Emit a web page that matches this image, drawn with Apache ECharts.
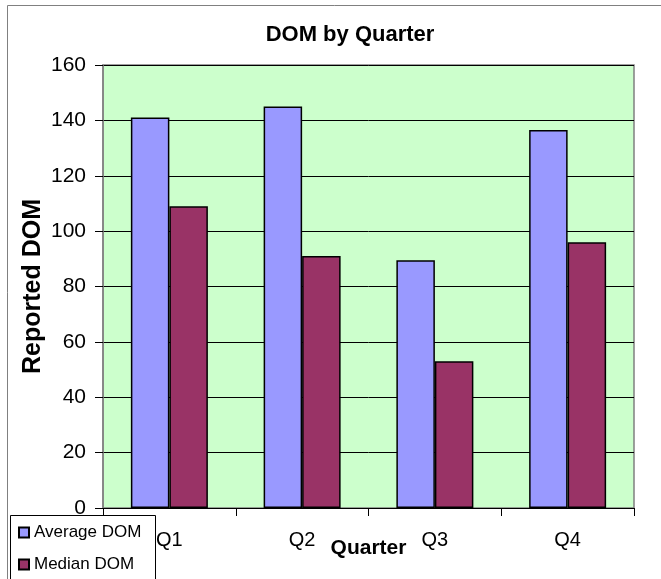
<!DOCTYPE html>
<html>
<head>
<meta charset="utf-8">
<script src="https://cdn.jsdelivr.net/npm/echarts@6/dist/echarts.min.js"></script>
<style>
html,body{margin:0;padding:0;background:#fff;}
#c{width:661px;height:579px;}
</style>
</head>
<body>
<div id="c"></div>
<script>
var categories = ['Q1', 'Q2', 'Q3', 'Q4'];
var averageDOM = [141, 145, 89.5, 136.5];
var medianDOM = [109, 91, 53, 96];
var yTicks = [0, 20, 40, 60, 80, 100, 120, 140, 160];

var chart = echarts.init(document.getElementById('c'), null, {renderer: 'canvas'});
var font = 'Liberation Sans, Arial, sans-serif';
chart.setOption({
  animation: false,
  backgroundColor: '#ffffff',
  title: {
    text: 'DOM by Quarter',
    left: 350, top: 24, textAlign: 'center', padding: 0,
    textStyle: {fontFamily: font, fontSize: 22, fontWeight: 'bold', color: '#000'}
  },
  grid: {
    left: 103, right: 27, top: 65, bottom: 71,
    show: true, backgroundColor: '#CCFFCC', borderColor: '#808080', borderWidth: 1.5,
    containLabel: false
  },
  legend: {
    orient: 'vertical', left: 18, top: 524, padding: 0,
    itemWidth: 10, itemHeight: 10, itemGap: 15, icon: 'rect',
    textStyle: {fontFamily: font, fontSize: 17, color: '#000'},
    data: ['Average DOM', 'Median DOM']
  },
  xAxis: {
    type: 'category', data: categories,
    axisLine: {show: true, lineStyle: {color: '#000', width: 1}},
    axisTick: {show: true, length: 8, lineStyle: {color: '#000'}},
    axisLabel: {fontFamily: font, fontSize: 20, color: '#000', margin: 22},
    name: 'Quarter', nameLocation: 'middle', nameGap: 30, nameMoveOverlap: false,
    nameTextStyle: {fontFamily: font, fontSize: 21, fontWeight: 'bold', color: '#000'}
  },
  yAxis: {
    type: 'value', min: yTicks[0], max: yTicks[yTicks.length - 1], interval: 20,
    axisLine: {show: true, lineStyle: {color: '#808080', width: 1.5}},
    axisTick: {show: true, length: 8, lineStyle: {color: '#000'}},
    axisLabel: {fontFamily: font, fontSize: 21, color: '#000', margin: 17},
    splitLine: {show: true, lineStyle: {color: '#000', width: 1}},
    name: 'Reported DOM', nameLocation: 'middle', nameGap: 57, nameMoveOverlap: false,
    nameTextStyle: {fontFamily: font, fontSize: 25, fontWeight: 'bold', color: '#000'}
  },
  series: [
    {
      name: 'Average DOM', type: 'bar', data: averageDOM,
      barGap: '0%', barCategoryGap: '42%',
      itemStyle: {color: '#9999FF', borderColor: '#000', borderWidth: 1.5}
    },
    {
      name: 'Median DOM', type: 'bar', data: medianDOM,
      barGap: '0%', barCategoryGap: '42%',
      itemStyle: {color: '#993366', borderColor: '#000', borderWidth: 1.5}
    }
  ],
  graphic: [
    {type: 'rect', shape: {x: 7.5, y: 5.5, width: 700, height: 700}, style: {fill: null, stroke: '#808080', lineWidth: 1}, z: -1, silent: true},
    {type: 'rect', shape: {x: 10.5, y: 515.5, width: 145, height: 80}, style: {fill: '#fff', stroke: '#000', lineWidth: 1}, z: 0, silent: true}
  ]
});
</script>
</body>
</html>
